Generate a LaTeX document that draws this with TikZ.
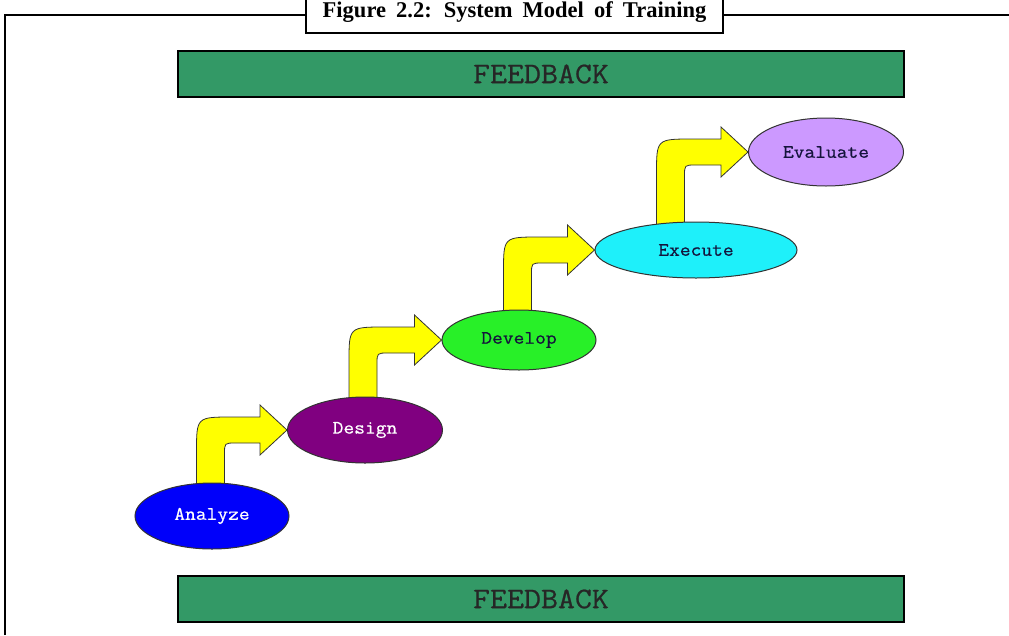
\documentclass[tikz,border=0pt]{standalone}
\usepackage{fontspec}
\setmainfont{Liberation Serif}
\newfontfamily\labelfont[FakeStretch=1.1, FakeBold=0.6]{Latin Modern Mono}
\newfontfamily\titlefont[WordSpace=1.8]{Liberation Serif}
\usetikzlibrary{calc, shapes.geometric, backgrounds}

\definecolor{barGreen}{RGB}{51,153,102}
\definecolor{analyzeBlue}{RGB}{0,0,250}
\definecolor{designPurple}{RGB}{128,0,128}
\definecolor{developGreen}{RGB}{40,240,40}
\definecolor{executeCyan}{RGB}{30,240,250}
\definecolor{evaluateLilac}{RGB}{204,153,255}
\definecolor{arrowYellow}{RGB}{255,255,0}
\definecolor{darkText}{RGB}{20,20,60}

% bent arrow from the top of one stage to the side of the next
\newcommand{\stepArrow}[2]{%
	\draw[steparrow] let \p1 = ($(#1.west)+(76,0)$), \p2 = (#1.center), \p3 = (#2.west) in
		(\x1-14pt,\y2) -- (\x1-14pt,\y3-22pt)
		.. controls (\x1-14pt,\y3+13pt) .. (\x1+22pt,\y3+13pt)
		-- (\x3-27pt,\y3+13pt) -- (\x3-27pt,\y3+25pt) -- (\x3,\y3)
		-- (\x3-27pt,\y3-25pt) -- (\x3-27pt,\y3-13pt)
		-- (\x1+25pt,\y3-13pt) .. controls (\x1+14pt,\y3-13pt) .. (\x1+14pt,\y3-24pt)
		-- (\x1+14pt,\y2) -- cycle;
}

\begin{document}
\begin{tikzpicture}[x = 1pt, y = -1pt,
		stage/.style = {ellipse, draw = black!80, line width = 1pt, inner sep = 0pt,
			font = \labelfont\fontsize{19}{21}\selectfont, text = darkText},
		feedbar/.style = {rectangle, draw = black, line width = 1.5pt, fill = barGreen,
			minimum width = 726, minimum height = 46, inner sep = 0pt,
			font = \labelfont\fontsize{30}{32}\selectfont, text = black!85},
		steparrow/.style = {draw = black!80, line width = 0.8pt, fill = arrowYellow},
		frame/.style = {line width = 2.5pt}]
	\def\xMAX{1009};
	\def\yMAX{635};

	\useasboundingbox (0,0) rectangle (\xMAX,\yMAX);
	\clip (0,0) rectangle (\xMAX,\yMAX);

	\begin{scope}
		\draw[frame] (5,\yMAX) -- (5,15) -- (306,15);
		\draw[frame] (723,15) -- (\xMAX,15);
		\draw[frame, fill = white] (306,-12) rectangle (723,33);
		\node[anchor = base, font = \titlefont\bfseries\fontsize{22.5}{24}\selectfont] (title) at (514.5,17) {Figure 2.2: System Model of Training};
	\end{scope}

	\node[feedbar] (fbtop) at (541,74) {FEEDBACK};
	\node[feedbar] (fbbottom) at (541,599) {FEEDBACK};

	\node[stage, fill = analyzeBlue, text = white, minimum width = 154, minimum height = 66] (analyze) at (212,516) {Analyze};
	\node[stage, fill = designPurple, text = white, minimum width = 155, minimum height = 66] (design) at (365,430) {Design};
	\node[stage, fill = developGreen, minimum width = 154, minimum height = 60] (develop) at (519,340) {Develop};
	\node[stage, fill = executeCyan, minimum width = 202, minimum height = 56] (execute) at (696,250) {Execute};
	\node[stage, fill = evaluateLilac, minimum width = 155, minimum height = 68] (evaluate) at (826,152) {Evaluate};

	\begin{pgfonlayer}{background}
		\foreach \a/\b in {analyze/design, design/develop, develop/execute, execute/evaluate}
		{
			\stepArrow{\a}{\b}
		}
	\end{pgfonlayer}
\end{tikzpicture}
\end{document}
